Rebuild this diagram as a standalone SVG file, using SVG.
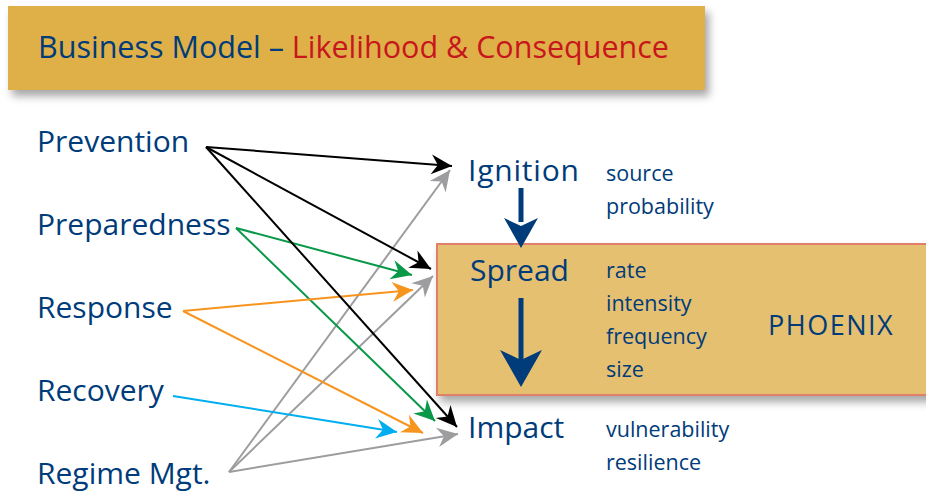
<svg xmlns="http://www.w3.org/2000/svg" width="926" height="493" viewBox="0 0 926 493">
<style>
.t{font-family:"Open Sans","Noto Sans",sans-serif;fill:#003B7A;font-weight:500}
.big{font-size:30px}
.sm{font-size:21.5px}
.c line{stroke-width:2;fill:none}
</style>
<defs>
<filter id="sh" x="-5%" y="-20%" width="115%" height="150%">
<feDropShadow dx="4" dy="6" stdDeviation="4" flood-color="#000" flood-opacity="0.35"/>
</filter>
<marker id="mk" markerUnits="userSpaceOnUse" orient="auto" markerWidth="24" markerHeight="24" viewBox="-20 -10 22 20" refX="0" refY="0" overflow="visible"><path d="M0,0 L-19,-9 L-13,0 L-19,9 Z" fill="#000"/></marker>
<marker id="mg" markerUnits="userSpaceOnUse" orient="auto" markerWidth="24" markerHeight="24" viewBox="-20 -10 22 20" refX="0" refY="0" overflow="visible"><path d="M0,0 L-19,-9 L-13,0 L-19,9 Z" fill="#9D9D9F"/></marker>
<marker id="mgr" markerUnits="userSpaceOnUse" orient="auto" markerWidth="24" markerHeight="24" viewBox="-20 -10 22 20" refX="0" refY="0" overflow="visible"><path d="M0,0 L-19,-9 L-13,0 L-19,9 Z" fill="#089848"/></marker>
<marker id="mo" markerUnits="userSpaceOnUse" orient="auto" markerWidth="24" markerHeight="24" viewBox="-20 -10 22 20" refX="0" refY="0" overflow="visible"><path d="M0,0 L-19,-9 L-13,0 L-19,9 Z" fill="#F7941D"/></marker>
<marker id="mb" markerUnits="userSpaceOnUse" orient="auto" markerWidth="24" markerHeight="24" viewBox="-20 -10 22 20" refX="0" refY="0" overflow="visible"><path d="M0,0 L-19,-9 L-13,0 L-19,9 Z" fill="#00AEEF"/></marker>
</defs>
<rect width="926" height="493" fill="#fff"/>

<g id="title">
<rect x="8" y="6" width="697" height="84" fill="#DEB046" filter="url(#sh)"/>
<text x="38" y="58" class="t" font-size="30.5px"><tspan>Business Model – </tspan><tspan fill="#C8161D">Likelihood &amp; Consequence</tspan></text>
</g>

<g id="phoenix">
<rect x="437" y="244" width="495" height="151" fill="#E5C06F" stroke="#E0806A" stroke-width="2" filter="url(#sh)"/>
<text x="768" y="335" class="t" font-size="27px" letter-spacing="1.5">PHOENIX</text>
</g>

<g id="prevention"><text x="37" y="152" class="t big">Prevention</text></g>
<g id="preparedness"><text x="37" y="235" class="t big">Preparedness</text></g>
<g id="response"><text x="37" y="318" class="t big">Response</text></g>
<g id="recovery"><text x="37" y="401" class="t big">Recovery</text></g>
<g id="regime"><text x="37" y="484" class="t big">Regime Mgt.</text></g>

<g id="ignition">
<text x="468" y="181" class="t big" letter-spacing="0.8">Ignition</text>
<text x="606" y="181" class="t sm">source</text>
<text x="606" y="214" class="t sm">probability</text>
</g>
<g id="spread">
<text x="470" y="281" class="t big">Spread</text>
<text x="606" y="278" class="t sm">rate</text>
<text x="606" y="311" class="t sm">intensity</text>
<text x="606" y="344" class="t sm">frequency</text>
<text x="606" y="377" class="t sm">size</text>
</g>
<g id="impact">
<text x="468" y="438" class="t big">Impact</text>
<text x="606" y="437" class="t sm">vulnerability</text>
<text x="606" y="470" class="t sm">resilience</text>
</g>

<g id="connectors" class="c">
<line x1="229" y1="472" x2="450" y2="170" stroke="#9D9D9F" marker-end="url(#mg)"/>
<line x1="229" y1="472" x2="433" y2="276" stroke="#9D9D9F" marker-end="url(#mg)"/>
<line x1="229" y1="472" x2="458" y2="434" stroke="#9D9D9F" marker-end="url(#mg)"/>
<line x1="236" y1="228" x2="412" y2="275" stroke="#089848" marker-end="url(#mgr)"/>
<line x1="236" y1="228" x2="435" y2="421" stroke="#089848" marker-end="url(#mgr)"/>
<line x1="183" y1="311" x2="413" y2="290" stroke="#F7941D" marker-end="url(#mo)"/>
<line x1="183" y1="311" x2="423" y2="433" stroke="#F7941D" marker-end="url(#mo)"/>
<line x1="173" y1="396" x2="397" y2="432" stroke="#00AEEF" marker-end="url(#mb)"/>
<line x1="206" y1="147" x2="452" y2="166" stroke="#000" marker-end="url(#mk)"/>
<line x1="206" y1="147" x2="431" y2="269" stroke="#000" marker-end="url(#mk)"/>
<line x1="206" y1="147" x2="457" y2="427" stroke="#000" marker-end="url(#mk)"/>
<path d="M521,188 V222" stroke="#003B7A" stroke-width="5" fill="none"/>
<path d="M521,248 L504,218 L521,226 L538,218 Z" fill="#003B7A"/>
<path d="M521,298 V360" stroke="#003B7A" stroke-width="5" fill="none"/>
<path d="M521,387 L500,350 L521,360 L542,350 Z" fill="#003B7A"/>
</g>
</svg>
